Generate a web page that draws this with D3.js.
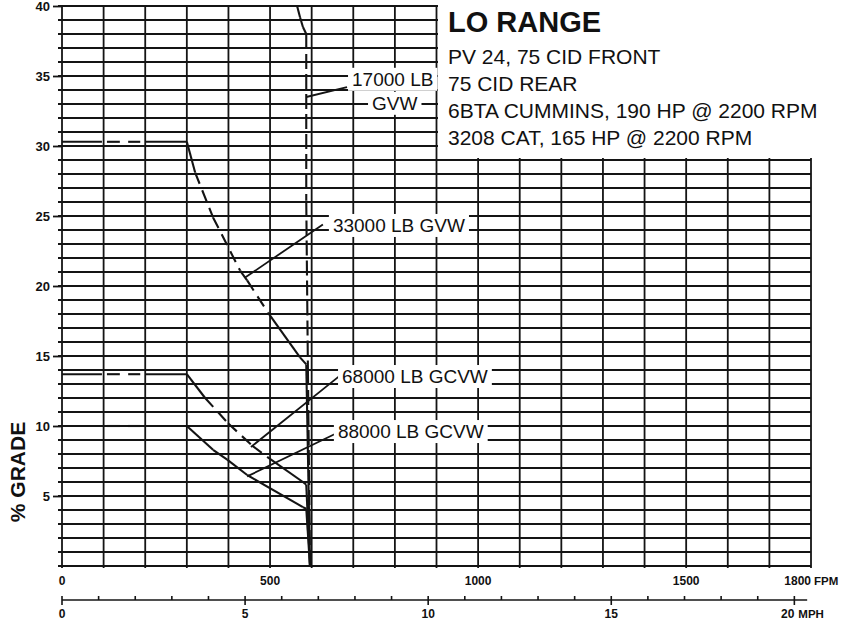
<!DOCTYPE html>
<html>
<head>
<meta charset="utf-8">
<script src="https://cdn.jsdelivr.net/npm/d3@7"></script>
<style>
  body { margin: 0; background: #fff; }
  svg text { font-family: "Liberation Sans", Arial, Helvetica, sans-serif; fill: #111; }
</style>
</head>
<body>
<svg id="chart" width="844" height="625"></svg>
<script>
// ---- axis values ----
const gradeTicks = [5, 10, 15, 20, 25, 30, 35, 40];
const fpmTicks = [0, 500, 1000, 1500, 1800];
const fpmTickLabels = ["0", "500", "1000", "1500", "1800"];
const mphTicks = [0, 5, 10, 15, 20];
const mphTickLabels = ["0", "5", "10", "15", "20"];
const FPM_PER_MPH = 88;

// ---- heading ----
const titleText = "LO RANGE";
const specLines = [
  "PV 24, 75 CID FRONT",
  "75 CID REAR",
  "6BTA CUMMINS, 190 HP @ 2200 RPM",
  "3208 CAT, 165 HP @ 2200 RPM"
];

// ---- gradeability curves: [speed FPM, % grade] ----
// segment codes: S = solid, D = dashed, G = not drawn
const gvw17000 = [[565, 40], [572, 39.2], [579, 38.5], [587, 38.0], [587, 26.1], [591, 14], [596, 0]];
const gvw17000Seg = "SSSDDD";

const gvw33000 = [[0, 30.3], [96, 30.3], [108, 30.3], [139, 30.3], [159, 30.3], [188, 30.3], [200, 30.3],
  [300, 30.3], [320, 28.1], [363, 24.9], [428, 21.1], [445, 20.4], [495, 18.1], [572, 14.9], [587, 14.4], [596, 0]];
const gvw33000Seg = "SGSGSGSSDDDDSSS";

const gcvw68000 = [[0, 13.7], [96, 13.7], [108, 13.7], [139, 13.7], [159, 13.7], [188, 13.7], [200, 13.7],
  [300, 13.7], [344, 12.0], [399, 10.2], [457, 8.6], [493, 7.8], [579, 6.0], [587, 5.8], [596, 0]];
const gcvw68000Seg = "SGSGSGSSDDDSSS";

const gcvw88000 = [[0, 10], [96, 10], [108, 10], [139, 10], [159, 10], [188, 10], [200, 10],
  [300, 10], [363, 8.3], [397, 7.6], [445, 6.5], [579, 4.2], [587, 4.1], [596, 0]];
const gcvw88000Seg = "SGSGSGSSSSSSS";

const curves = [
  { pts: gvw17000, seg: gvw17000Seg, dash: "15,5" },
  { pts: gvw33000, seg: gvw33000Seg, dash: "12,7" },
  { pts: gcvw68000, seg: gcvw68000Seg, dash: "12,7" },
  { pts: gcvw88000, seg: gcvw88000Seg, dash: "12,7" }
];

// ---- curve labels and leader lines (leader from curve point to label) ----
const curveLabels = [
  { lines: ["17000 LB", "GVW"], at: [697, 34.3], lineOffsets: [0, 20], lineShift: [0, 20],
    leader: [[587, 33.5], [685, 34.2]] },
  { lines: ["33000 LB GVW"], at: [651, 23.86], lineOffsets: [0], lineShift: [0],
    leader: [[440, 20.6], [627, 24.4]] },
  { lines: ["68000 LB GCVW"], at: [673, 13.07], lineOffsets: [0], lineShift: [0],
    leader: [[454, 8.5], [668, 13.6]] },
  { lines: ["88000 LB GCVW"], at: [663, 9.14], lineOffsets: [0], lineShift: [0],
    leader: [[445, 6.4], [661, 9.5]] }
];

// ---- scales ----
const x = d3.scaleLinear().domain([0, 1800]).range([62, 811]);
const y = d3.scaleLinear().domain([0, 40]).range([566, 6]);
const xMph = d3.scaleLinear().domain([0, 1800 / FPM_PER_MPH]).range([62, 811]);

const svg = d3.select("#chart");
const ink = "#141414";

// ---- grid ----
const grid = svg.append("g").attr("stroke", ink).attr("stroke-width", 1.8);
grid.selectAll("line.h").data(d3.range(0, 41)).join("line")
  .attr("class", "h")
  .attr("x1", x(0) - 4).attr("x2", x(1800))
  .attr("y1", d => y(d)).attr("y2", d => y(d));
grid.selectAll("line.v").data(d3.range(0, 1801, 100)).join("line")
  .attr("class", "v")
  .attr("x1", d => x(d)).attr("x2", d => x(d))
  .attr("y1", y(40)).attr("y2", y(0) + 2);

// ---- y axis (ticks + labels) ----
const yAxis = d3.axisLeft(y).tickValues(gradeTicks).tickSize(9).tickPadding(3).tickFormat(d3.format("d"));
const gy = svg.append("g").attr("transform", `translate(${x(0)},0)`).call(yAxis);
gy.select(".domain").remove();
gy.selectAll(".tick line").attr("stroke", ink).attr("stroke-width", 1.8);
gy.selectAll(".tick text").attr("font-size", 13).attr("font-weight", "bold")
  .attr("font-family", "'Liberation Sans', Arial, sans-serif").attr("fill", ink);

svg.append("text")
  .attr("transform", `translate(25,${472}) rotate(-90)`)
  .attr("text-anchor", "middle")
  .attr("font-size", 21).attr("font-weight", "bold")
  .text("% GRADE");

// ---- FPM labels ----
svg.append("g").selectAll("text").data(fpmTicks).join("text")
  .attr("x", d => x(d))
  .attr("y", 585)
  .attr("text-anchor", (d, i) => i === fpmTicks.length - 1 ? "end" : "middle")
  .attr("font-size", 12).attr("font-weight", "bold")
  .text((d, i) => fpmTickLabels[i]);
svg.append("text").attr("x", x(1800) + 3).attr("y", 585)
  .attr("font-size", 11.5).attr("font-weight", "bold").text("FPM");

// ---- MPH scale ----
const mph = svg.append("g").attr("stroke", ink).attr("stroke-width", 1.6);
mph.append("line").attr("x1", xMph(0)).attr("x2", xMph(20.35)).attr("y1", 600).attr("y2", 600);
mph.selectAll("line.t").data(d3.range(0, 21)).join("line")
  .attr("class", "t")
  .attr("x1", d => xMph(d)).attr("x2", d => xMph(d))
  .attr("y1", 596).attr("y2", d => d % 5 === 0 ? 605 : 600);
svg.append("g").selectAll("text").data(mphTicks).join("text")
  .attr("x", d => xMph(d))
  .attr("y", 618)
  .attr("text-anchor", (d, i) => i === mphTicks.length - 1 ? "end" : "middle")
  .attr("font-size", 12).attr("font-weight", "bold")
  .text((d, i) => mphTickLabels[i]);
svg.append("text").attr("x", xMph(20) + 4).attr("y", 618)
  .attr("font-size", 11.5).attr("font-weight", "bold").text("MPH");

// ---- heading panel ----
svg.append("rect").attr("x", x(900) + 1.5).attr("y", 0)
  .attr("width", 844 - x(900)).attr("height", y(29) - 2).attr("fill", "#fff");
svg.append("text").attr("x", 448).attr("y", 32)
  .attr("font-size", 29).attr("font-weight", "bold").text(titleText);
svg.append("g").selectAll("text").data(specLines).join("text")
  .attr("x", 448).attr("y", (d, i) => 63.5 + i * 27)
  .attr("font-size", 21).text(d => d);

// ---- curves ----
const line = d3.line().x(d => x(d[0])).y(d => y(d[1]));
const cg = svg.append("g").attr("fill", "none").attr("stroke", ink).attr("stroke-width", 2.1);
curves.forEach(c => {
  for (let i = 0; i < c.seg.length; i++) {
    const k = c.seg[i];
    if (k === "G") continue;
    cg.append("path")
      .attr("d", line([c.pts[i], c.pts[i + 1]]))
      .attr("stroke-dasharray", k === "D" ? c.dash : null);
  }
});

// ---- curve labels ----
const lg = svg.append("g");
curveLabels.forEach(L => {
  lg.append("path").attr("d", line(L.leader))
    .attr("fill", "none").attr("stroke", ink).attr("stroke-width", 1.8);
  L.lines.forEach((txt, i) => {
    const t = lg.append("text")
      .attr("x", x(L.at[0]) + (i === 1 ? 20 : 0))
      .attr("y", y(L.at[1]) + L.lineOffsets[i] * 1.2)
      .attr("font-size", 19)
      .text(txt);
    const b = t.node().getBBox();
    lg.insert("rect", () => t.node())
      .attr("x", b.x - 4).attr("y", b.y - 1)
      .attr("width", b.width + 8).attr("height", b.height + 2)
      .attr("fill", "#fff");
  });
});
</script>
</body>
</html>
